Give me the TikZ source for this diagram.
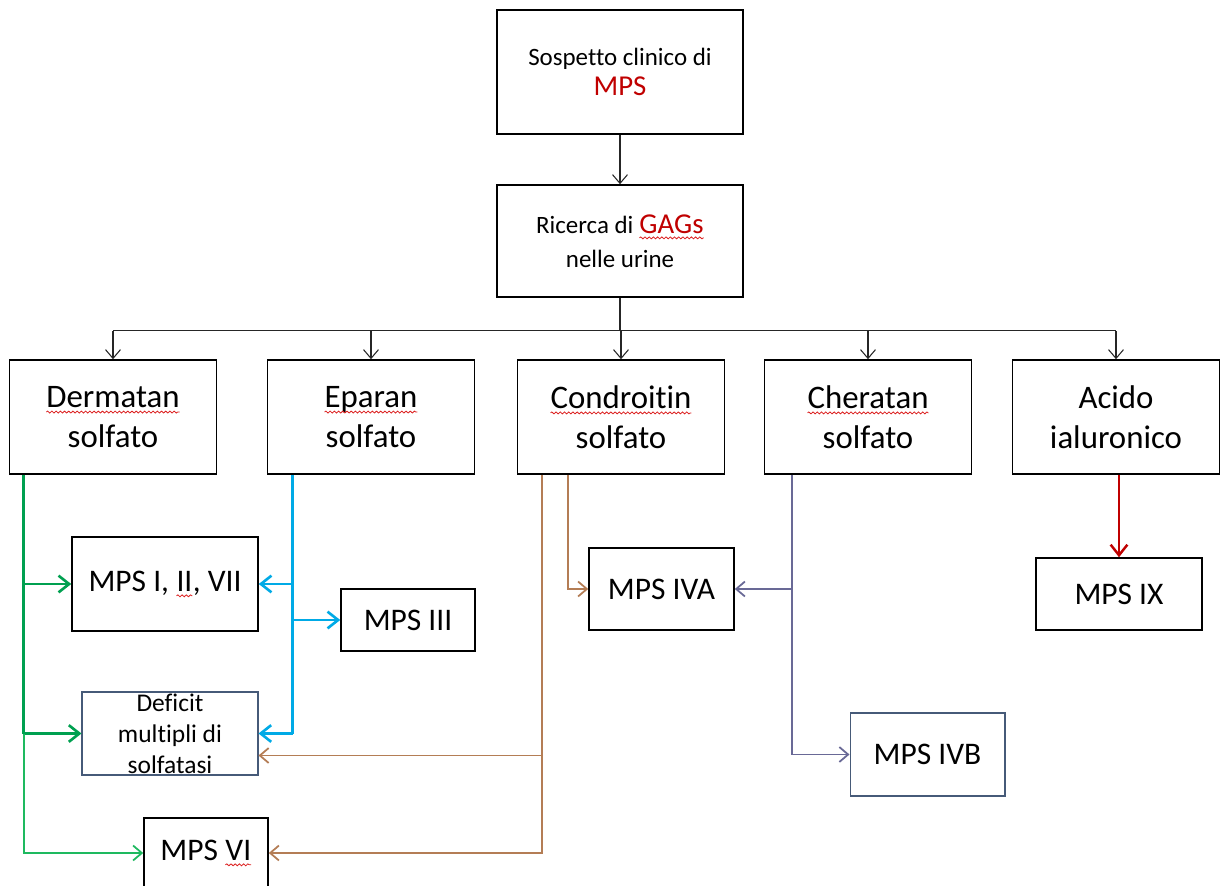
\documentclass[tikz,border=0pt]{standalone}
\usepackage{fontspec}
\setmainfont{Carlito}[Ligatures=CommonOff]
\usetikzlibrary{arrows.meta,calc,decorations.pathmorphing}
\definecolor{mpsred}{RGB}{192,0,0}
\definecolor{spellred}{RGB}{220,30,30}
\definecolor{gdark}{RGB}{0,160,80}
\definecolor{glight}{RGB}{30,185,95}
\definecolor{bluel}{RGB}{0,170,230}
\definecolor{brownl}{RGB}{180,125,85}
\definecolor{grayl}{RGB}{105,105,150}
\definecolor{boxblue}{RGB}{70,90,120}
\newcommand\spellwave[1]{\tikz[baseline=(sw.base)]{%
  \node[inner sep=0pt, outer sep=0pt, draw=none, fill=none, minimum width=0pt, minimum height=0pt] (sw) {#1};%
  \draw[draw=spellred, line width=0.45pt, decorate, decoration={snake, amplitude=0.55pt, segment length=2.4pt}]
    ([yshift=-2.6pt]sw.base west) -- ([yshift=-2.6pt]sw.base east);}}
\tikzset{
  box/.style={draw=black, line width=0.9pt, inner sep=0pt, align=center, fill=white},
  thinbox/.style={draw=boxblue, line width=0.6pt, inner sep=0pt, align=center, fill=white},
  rowfont/.style={font=\fontsize{18.7}{22.7}\selectfont},
  mpsfont/.style={font=\fontsize{17.9}{21.8}\selectfont},
  rowbox/.style={box, rowfont, minimum width=4.14cm, minimum height=2.28cm},
  blk/.style={line width=0.6pt, draw=black!85},
  tipA/.style={-{Straight Barb[length=5pt,width=8.5pt]}},
  tipB/.style={-{Straight Barb[length=6pt,width=9.5pt]}},
  gthick/.style={line width=1.5pt, draw=gdark},
  gthin/.style={line width=1pt, draw=glight},
  bthick/.style={line width=1.5pt, draw=bluel},
  brownln/.style={line width=1pt, draw=brownl},
  grayln/.style={line width=1pt, draw=grayl},
  redln/.style={line width=1.4pt, draw=mpsred}
}
\begin{document}
\begin{tikzpicture}[x=0.02cm,y=-0.02cm]
\path[use as bounding box, clip] (0,0) rectangle (1226,885);
\fill[white] (0,0) rectangle (1226,885);

% nodes
\node[box, minimum width=4.92cm, minimum height=2.48cm, font=\fontsize{14.2}{17}\selectfont] (top) at (620,72)
  {Sospetto clinico di\\{\fontsize{16.4}{17}\selectfont\color{mpsred}MPS}};
\node[box, minimum width=4.92cm, minimum height=2.24cm, font=\fontsize{14.2}{19.3}\selectfont] (ric) at (620,241)
  {Ricerca di {\fontsize{16.4}{19.3}\selectfont\color{mpsred}\spellwave{GAGs}}\\nelle urine};

\node[rowbox] (derm) at (113,417) {\spellwave{Dermatan}\\solfato};
\node[rowbox] (epar) at (371,417) {\spellwave{Eparan}\\solfato};
\node[rowbox] (cond) at (621,417) {\spellwave{Condroitin}\\solfato};
\node[rowbox] (cher) at (868,417) {\spellwave{Cheratan}\\solfato};
\node[rowbox] (acido) at (1116,417) {Acido\\ialuronico};

\node[box, mpsfont, minimum width=3.72cm, minimum height=1.88cm] (mps1) at (165,584) {MPS I, \spellwave{II}, VII};
\node[box, mpsfont, minimum width=2.68cm, minimum height=1.24cm] (mps3) at (408,620) {MPS III};
\node[thinbox, minimum width=3.52cm, minimum height=1.66cm,
  label={[font=\fontsize{14.5}{17.7}\selectfont, align=center, inner sep=0pt]center:Deficit\\multipli di\\solfatasi}] (def) at (170,733.5) {};
\node[box, mpsfont, minimum width=2.48cm, minimum height=1.4cm] (mps6) at (206,853) {MPS \spellwave{VI}};
\node[box, mpsfont, minimum width=2.9cm, minimum height=1.64cm] (mps4a) at (661.5,589) {MPS IVA};
\node[thinbox, mpsfont, minimum width=3.1cm, minimum height=1.66cm] (mps4b) at (927.5,754.5) {MPS IVB};
\node[box, mpsfont, minimum width=3.32cm, minimum height=1.44cm] (mps9) at (1119,594) {MPS IX};

% black connectors
\draw[blk, tipA] (top.south) -- (ric.north);
\coordinate (bus) at ($(ric.south)+(0,33)$);
\draw[blk] (ric.south) -- (bus);
\draw[blk] (bus -| derm.north) -- (bus -| acido.north);
\foreach \n in {derm,epar,cond,cher,acido}
  \draw[blk, tipA] (bus -| \n.north) -- (\n.north);

% green
\coordinate (gt) at ($(derm.south west)+(15,0)$);
\draw[gthick] (gt) -- (gt |- def.west);
\draw[gthick, tipB] (gt |- mps1.west) -- (mps1.west);
\draw[gthick, tipB] (gt |- def.west) -- (def.west);
\draw[gthin, tipA] (gt |- def.west) -- (gt |- mps6.west) -- (mps6.west);

% blue
\coordinate (bt) at ($(epar.south west)+(26,0)$);
\draw[bthick] (bt) -- (bt |- def.east);
\draw[bthick, tipB] (bt |- mps1.east) -- (mps1.east);
\draw[bthick, tipB] (bt |- mps3.west) -- (mps3.west);
\draw[bthick, tipB] (bt |- def.east) -- (def.east);

% brown
\coordinate (c1) at ($(cond.south west)+(25,0)$);
\coordinate (c2) at ($(cond.south west)+(51,0)$);
\coordinate (dfb) at ($(def.east)+(0,22)$);
\draw[brownln, tipA] (c1) -- (c1 |- mps6.east) -- (mps6.east);
\draw[brownln, tipA] (c1 |- dfb) -- (dfb);
\draw[brownln, tipA] (c2) -- (c2 |- mps4a.west) -- (mps4a.west);

% gray
\coordinate (k) at ($(cher.south west)+(28,0)$);
\draw[grayln, tipA] (k) -- (k |- mps4b.west) -- (mps4b.west);
\draw[grayln, tipA] (k |- mps4a.east) -- (mps4a.east);

% red
\draw[redln, tipB] (mps9.north |- acido.south) -- (mps9.north);
\end{tikzpicture}
\end{document}
